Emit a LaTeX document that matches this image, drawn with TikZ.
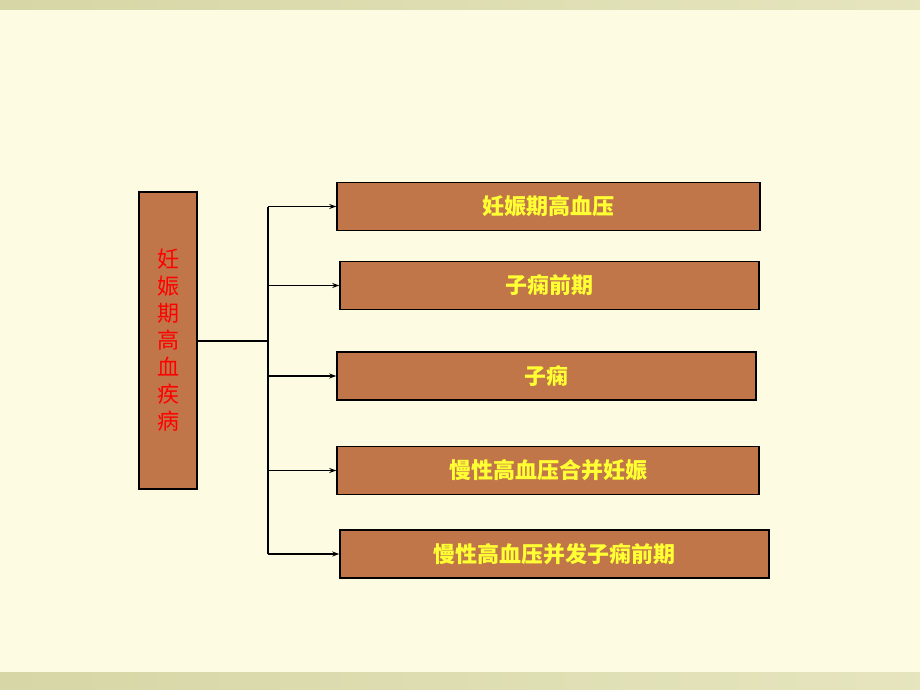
\documentclass[tikz,border=0pt]{standalone}
\usepackage{fontspec}
\newfontfamily\cjk{Noto Sans CJK SC}
\usetikzlibrary{arrows.meta}
\definecolor{bg}{HTML}{FDFBE1}
\definecolor{band}{HTML}{D6D6A6}
\definecolor{boxfill}{HTML}{C1764A}
\definecolor{txtyel}{HTML}{FFFF33}
\begin{document}
\begin{tikzpicture}[x=1pt,y=-1pt, thick,
    kind/.style={draw=black,line width=1.5pt,fill=boxfill,minimum height=48pt,inner sep=0pt,
      font=\cjk\fontsize{22}{24}\selectfont\bfseries,text=txtyel},
    main/.style={draw=black,line width=1.5pt,fill=boxfill,minimum width=58pt,minimum height=297pt,
      inner sep=0pt,font=\cjk\fontsize{22}{27}\selectfont,text=red,align=center},
    link/.style={line width=1.2pt,-{Stealth[length=7pt,width=5pt]}}]
  \fill[bg] (0,0) rectangle (920,690);
  \shade[left color=band,right color=band!60!bg] (0,0) rectangle (920,10);
  \shade[left color=band,right color=band!60!bg] (0,672) rectangle (920,690);

  \node[main] (dis) at (168,340.5) {妊\\娠\\期\\高\\血\\疾\\病};
  \node[kind,minimum width=423pt] (k1) at (548.5,206.5) {妊娠期高血压};
  \node[kind,minimum width=419pt] (k2) at (549.5,285.5) {子痫前期};
  \node[kind,minimum width=419pt] (k3) at (546.5,376) {子痫};
  \node[kind,minimum width=422pt] (k4) at (548,470.5) {慢性高血压合并妊娠};
  \node[kind,minimum width=429pt] (k5) at (554.5,554) {慢性高血压并发子痫前期};

  \coordinate (fork) at (268,341);
  \coordinate (top) at (268,206.5);
  \coordinate (bot) at (268,554);
  \draw[line width=1.2pt] (dis.east |- fork) -- (fork);
  \draw[line width=1.2pt] (top) -- (bot);
  \foreach \k in {k1,k2,k3,k4,k5}
    \draw[link] (top |- \k.west) -- (\k.west);
\end{tikzpicture}
\end{document}
